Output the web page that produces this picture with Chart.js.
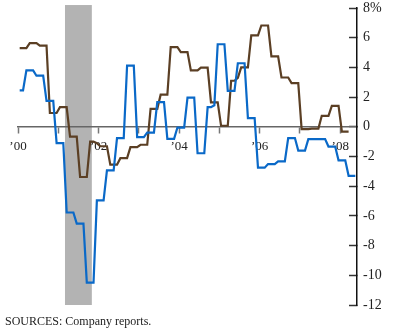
<!DOCTYPE html>
<html>
<head>
    <meta charset="utf-8">
    <title>Monthly change, 2000-2008</title>
    <script src="https://cdn.jsdelivr.net/npm/chart.js"></script>
    <style>
        body {
            margin: 0;
            background: #ffffff;
        }
        .wrap {
            position: relative;
            width: 400px;
            height: 330px;
        }
        .source {
            position: absolute;
            left: 5px;
            top: 314px;
            font-family: "Liberation Serif", serif;
            font-size: 12px;
            color: #222;
        }
    </style>
</head>
<body>
    <div class="wrap">
        <canvas id="chart" width="400" height="330"></canvas>
        <div class="source">SOURCES: Company reports.</div>
    </div>

    <script>
        // months counted from Jan 2000, one value per month
        const monthCount = 101;
        const yearTicks = [0, 12, 24, 36, 48, 60, 72, 84, 96];
        const yearLabels = ['\u201900', '', '\u201902', '', '\u201904', '', '\u201906', '', '\u201908'];
        const yTicks = [8, 6, 4, 2, 0, -2, -4, -6, -8, -10, -12];
        const recessionMonths = [14, 22]; // Mar 2001 - Nov 2001

        const brownSeries = [
            5.3, 5.3, 5.3, 5.63, 5.63, 5.63, 5.47, 5.47, 5.47, 0.93, 0.93, 0.93,
            1.32, 1.32, 1.32, -0.66, -0.66, -0.66, -3.38, -3.38, -3.38, -1.0, -1.0, -1.1,
            -1.31, -1.31, -1.31, -2.55, -2.55, -2.55, -2.11, -2.11, -2.11, -1.37, -1.37, -1.37,
            -1.21, -1.21, -1.21, 1.21, 1.21, 1.21, 2.16, 2.16, 2.16, 5.36, 5.36, 5.36,
            5.03, 5.03, 5.03, 3.8, 3.8, 3.8, 3.99, 3.99, 3.99, 1.64, 1.64, 1.64,
            0.07, 0.07, 0.07, 3.1, 3.1, 3.3, 4.0, 4.0, 4.0, 6.15, 6.15, 6.15,
            6.82, 6.82, 6.82, 4.74, 4.74, 4.74, 3.32, 3.32, 3.32, 2.94, 2.94, 2.94,
            -0.16, -0.16, -0.16, -0.12, -0.12, -0.12, 0.74, 0.74, 0.74, 1.41, 1.41, 1.41,
            -0.32, -0.32, -0.32
        ];

        const blueSeries = [
            2.45, 2.45,
            3.8, 3.8, 3.8, 3.44, 3.44, 3.44, 1.75, 1.75, 1.75, -1.1, -1.1, -1.1,
            -5.77, -5.77, -5.77, -6.52, -6.52, -6.52, -10.49, -10.49, -10.49, -4.96, -4.96, -4.96,
            -2.94, -2.94, -2.94, -0.76, -0.76, -0.76, 4.12, 4.12, 4.12, -0.69, -0.69, -0.69,
            -0.39, -0.39, -0.39, 1.66, 1.66, 1.66, -0.81, -0.81, -0.81, -0.05, -0.05, -0.05,
            1.97, 1.97, 1.97, -1.78, -1.78, -1.78, 1.32, 1.32, 1.45, 5.56, 5.56, 5.56,
            2.42, 2.42, 2.42, 4.28, 4.28, 4.28, 0.59, 0.59, 0.59, -2.75, -2.75, -2.75,
            -2.51, -2.51, -2.51, -2.33, -2.33, -2.33, -0.76, -0.76, -0.76, -1.6, -1.6, -1.6,
            -0.83, -0.83, -0.83, -0.83, -0.83, -0.83, -1.33, -1.33, -1.33, -2.26, -2.26, -2.26,
            -3.3, -3.3, -3.3
        ];

        // each month sits in the middle of its slot
        const toPoints = arr => arr.map((v, i) => ({ x: i + 0.5, y: v }));

        const recessionBand = {
            id: 'recessionBand',
            beforeDraw(chart) {
                const { ctx, scales } = chart;
                const x0 = scales.x.getPixelForValue(recessionMonths[0]);
                const x1 = scales.x.getPixelForValue(recessionMonths[1]);
                const y0 = scales.y.getPixelForValue(8.2);
                const y1 = scales.y.getPixelForValue(-12);
                ctx.save();
                ctx.fillStyle = '#b3b3b3';
                ctx.fillRect(x0, y0, x1 - x0, y1 - y0);
                ctx.restore();
            }
        };

        const noPad = s => {
            s.paddingTop = 0;
            s.paddingBottom = 0;
            s.paddingLeft = 0;
            s.paddingRight = 0;
        };

        new Chart(document.getElementById('chart'), {
            type: 'line',
            data: {
                datasets: [{
                    data: toPoints(blueSeries),
                    borderColor: '#0a69c8',
                    borderWidth: 2.2,
                    pointRadius: 0,
                    tension: 0,
                    fill: false
                }, {
                    data: toPoints(brownSeries),
                    borderColor: '#5b3f24',
                    borderWidth: 2.2,
                    pointRadius: 0,
                    tension: 0,
                    fill: false
                }]
            },
            options: {
                responsive: false,
                animation: false,
                layout: { padding: { left: 18, top: 8, right: 0, bottom: 25 } },
                plugins: {
                    legend: { display: false },
                    tooltip: { enabled: false }
                },
                scales: {
                    x: {
                        type: 'linear',
                        position: { y: 0 },
                        min: 0,
                        max: monthCount,
                        afterBuildTicks: s => { s.ticks = yearTicks.map(v => ({ value: v })); },
                        afterFit: noPad,
                        grid: { drawOnChartArea: false, tickLength: 6, color: '#777', tickWidth: 1.5 },
                        border: { color: '#666', width: 1.5 },
                        ticks: {
                            padding: 6,
                            autoSkip: false,
                            maxRotation: 0,
                            color: '#222',
                            font: { family: '"Liberation Serif", serif', size: 13 },
                            callback: (v, i) => yearLabels[i]
                        }
                    },
                    y: {
                        position: 'right',
                        min: -12,
                        max: 8,
                        afterBuildTicks: s => { s.ticks = yTicks.map(v => ({ value: v })); },
                        afterFit: s => { noPad(s); s.width = 43; },
                        grid: { drawOnChartArea: false, tickLength: -8, color: '#333', tickWidth: 1.5 },
                        border: { color: '#111', width: 1.5 },
                        ticks: {
                            padding: 14,
                            color: '#222',
                            font: { family: '"Liberation Serif", serif', size: 14 },
                            callback: v => v === 8 ? '8%' : String(v)
                        }
                    }
                }
            },
            plugins: [recessionBand]
        });
    </script>
</body>
</html>
